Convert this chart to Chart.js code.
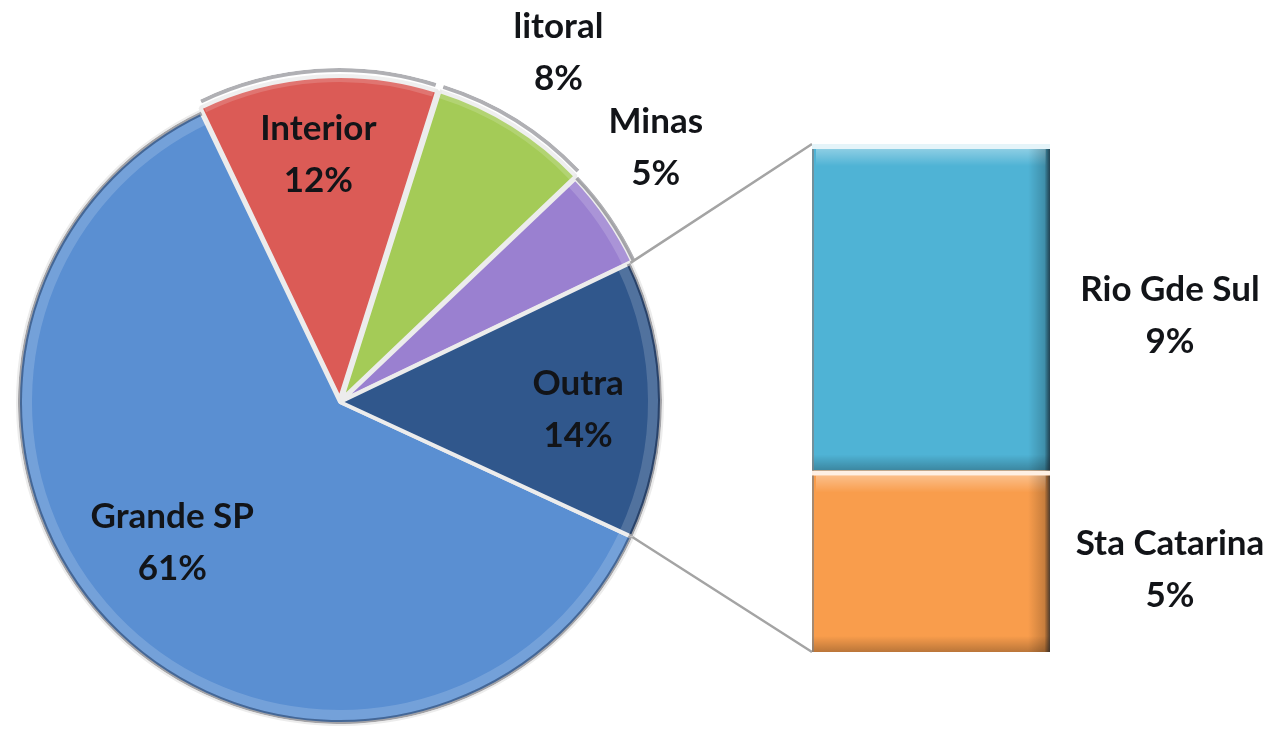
<!DOCTYPE html>
<html>
<head>
<meta charset="utf-8">
<script src="https://cdn.jsdelivr.net/npm/chart.js@4.4.1/dist/chart.umd.min.js"></script>
<style>
  html, body { margin: 0; padding: 0; background: #fff; overflow: hidden; }
  #wrap { position: relative; width: 1281px; height: 736px; }
  #pie-chart { position: absolute; left: 0; top: 0; }
  #bar-chart { position: absolute; left: 800px; top: 128px; }
</style>
</head>
<body>
<div id="wrap">
  <canvas id="pie-chart" width="1281" height="736"></canvas>
  <canvas id="bar-chart" width="481" height="544"></canvas>
</div>
<script>
// pie slices, clockwise starting just below the "Outra" wedge
const pieLabels = ['Grande SP', 'Interior', 'litoral', 'Minas', 'Outra'];
const pieValues = [61, 12, 8, 5, 14];
const pieColors = ['#5a8fd2', '#db5b56', '#a4cb57', '#9a80d0', '#30578c'];

// breakdown of "Outra" (bottom -> top of the stacked bar)
const barLabels = ['Sta Catarina', 'Rio Gde Sul'];
const barValues = [5, 9];
const barColors = ['#f99d4c', '#4fb3d5'];

const FONT = 'bold 35px Lato, "Open Sans", sans-serif';
const TEXT = '#121418';

// [radius factor, angle nudge in degrees] for each pie label
const pieLabelPlace = [[0.68, 5.4], [0.77, -1], [1.28, 0], [1.26, -4.3], [0.74, 2.3]];

function drawTwoLines(ctx, x, y, a, b) {
  ctx.fillText(a, x, y - 26);
  ctx.fillText(b, x, y + 26);
}

// ---- bar of pie ----
const barBevel = {
  id: 'barBevel',
  afterDatasetsDraw(chart) {
    const ctx = chart.ctx;
    chart.data.datasets.forEach((ds, i) => {
      const el = chart.getDatasetMeta(i).data[0];
      const l = el.x - el.width / 2, r = el.x + el.width / 2;
      const t = el.y, b = el.base;
      ctx.save();
      // pale separator / top edge
      ctx.fillStyle = 'rgba(255,255,255,0.85)';
      ctx.fillRect(l, t, r - l, 5);
      let g = ctx.createLinearGradient(0, t + 5, 0, t + 22);
      g.addColorStop(0, 'rgba(255,255,255,0.35)');
      g.addColorStop(1, 'rgba(255,255,255,0)');
      ctx.fillStyle = g;
      ctx.fillRect(l + 4, t + 5, r - l - 8, 17);
      g = ctx.createLinearGradient(0, b - 16, 0, b);
      g.addColorStop(0, 'rgba(0,0,0,0)');
      g.addColorStop(1, 'rgba(0,0,0,0.25)');
      ctx.fillStyle = g;
      ctx.fillRect(l, b - 16, r - l, 16);
      g = ctx.createLinearGradient(r - 22, 0, r, 0);
      g.addColorStop(0, 'rgba(0,0,0,0)');
      g.addColorStop(0.75, 'rgba(0,0,0,0.2)');
      g.addColorStop(1, 'rgba(20,30,40,0.75)');
      ctx.fillStyle = g;
      ctx.fillRect(r - 22, t + 5, 22, b - t - 5);
      ctx.fillStyle = 'rgba(130,130,130,0.7)';
      ctx.fillRect(l, t + 5, 2, b - t - 5);
      ctx.restore();
    });
  },
  afterDraw(chart) {
    const ctx = chart.ctx;
    ctx.save();
    ctx.font = FONT;
    ctx.fillStyle = TEXT;
    ctx.textAlign = 'center';
    ctx.textBaseline = 'middle';
    chart.data.datasets.forEach((ds, i) => {
      const el = chart.getDatasetMeta(i).data[0];
      const x = el.x + el.width / 2 + 120;
      const y = (el.y + el.base) / 2 + 8;
      drawTwoLines(ctx, x, y, ds.label, ds.data[0] + '%');
    });
    ctx.restore();
  }
};

const barChart = new Chart(document.getElementById('bar-chart'), {
  type: 'bar',
  data: {
    labels: [''],
    datasets: barLabels.map((lab, i) => ({
      label: lab,
      data: [barValues[i]],
      backgroundColor: barColors[i],
      borderWidth: 0,
    })),
  },
  options: {
    responsive: false,
    animation: false,
    layout: { padding: { left: 12, right: 231, top: 16, bottom: 20 } },
    datasets: { bar: { barPercentage: 1, categoryPercentage: 1 } },
    plugins: { legend: { display: false }, tooltip: { enabled: false } },
    scales: {
      x: { stacked: true, display: false },
      y: { stacked: true, display: false, min: 0, max: 14 },
    },
  },
  plugins: [barBevel],
});

// ---- pie ----
const pieDecor = {
  id: 'pieDecor',
  afterDatasetsDraw(chart) {
    const ctx = chart.ctx;
    chart.getDatasetMeta(0).data.forEach((el) => {
      const { x, y, startAngle, endAngle, outerRadius } = el.getProps(['x', 'y', 'startAngle', 'endAngle', 'outerRadius'], true);
      const mid = (startAngle + endAngle) / 2;
      const off = el.options.offset || 0;
      const cx = x + Math.cos(mid) * off, cy = y + Math.sin(mid) * off;
      ctx.save();
      ctx.beginPath();
      ctx.moveTo(cx, cy);
      ctx.arc(cx, cy, outerRadius, startAngle, endAngle);
      ctx.closePath();
      ctx.clip();
      ctx.beginPath();
      ctx.arc(cx, cy, outerRadius - 9, startAngle, endAngle);
      ctx.lineWidth = 10;
      ctx.strokeStyle = 'rgba(255,255,255,0.16)';
      ctx.stroke();
      ctx.beginPath();
      ctx.arc(cx, cy, outerRadius - 2, startAngle, endAngle);
      ctx.lineWidth = 4;
      ctx.strokeStyle = 'rgba(30,30,40,0.35)';
      ctx.stroke();
      ctx.restore();
    });
  },
  afterDraw(chart) {
    const ctx = chart.ctx;
    const arcs = chart.getDatasetMeta(0).data;

    // connector lines from the "Outra" wedge to the stacked bar
    const outra = arcs[arcs.length - 1];
    const R = outra.outerRadius;
    const topBar = barChart.getDatasetMeta(barLabels.length - 1).data[0];
    const botBar = barChart.getDatasetMeta(0).data[0];
    const bx = barChart.canvas.offsetLeft, by = barChart.canvas.offsetTop;
    const barLeft = bx + topBar.x - topBar.width / 2;
    ctx.save();
    ctx.strokeStyle = '#a4a4a4';
    ctx.lineWidth = 2.5;
    ctx.beginPath();
    ctx.moveTo(outra.x + R * Math.cos(outra.startAngle), outra.y + R * Math.sin(outra.startAngle));
    ctx.lineTo(barLeft, by + topBar.y);
    ctx.moveTo(outra.x + R * Math.cos(outra.endAngle), outra.y + R * Math.sin(outra.endAngle));
    ctx.lineTo(barLeft, by + botBar.base);
    ctx.stroke();

    // labels
    ctx.font = FONT;
    ctx.fillStyle = TEXT;
    ctx.textAlign = 'center';
    ctx.textBaseline = 'middle';
    arcs.forEach((el, i) => {
      const [k, nudge] = pieLabelPlace[i];
      const a = (el.startAngle + el.endAngle) / 2 + nudge * Math.PI / 180;
      const r = el.outerRadius * k;
      drawTwoLines(ctx, el.x + r * Math.cos(a), el.y + r * Math.sin(a),
        pieLabels[i], pieValues[i] + '%');
    });
    ctx.restore();
  }
};

new Chart(document.getElementById('pie-chart'), {
  type: 'pie',
  data: {
    labels: pieLabels,
    datasets: [{
      data: pieValues,
      backgroundColor: pieColors,
      borderColor: '#ececec',
      borderWidth: 4,
      offset: [0, 12, 12, 6, 0],
    }],
  },
  options: {
    responsive: false,
    animation: false,
    rotation: 114.8,
    radius: 322,
    layout: { padding: { left: 10, right: 611, top: 72, bottom: 4 } },
    plugins: { legend: { display: false }, tooltip: { enabled: false } },
  },
  plugins: [pieDecor],
});
</script>
</body>
</html>
